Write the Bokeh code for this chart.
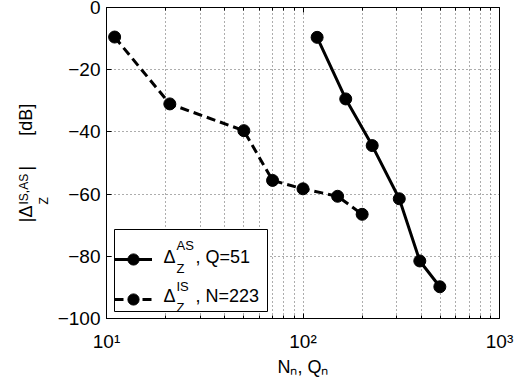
from math import pi
from bokeh.plotting import figure
from bokeh.models import (Range1d, FixedTicker, Legend, LegendItem, Label,
                          LogAxis, BoxAnnotation)
from bokeh.embed import file_html
from bokeh.resources import INLINE

# ---- data ----
is_n = [11, 21, 50, 70, 100, 150, 200]
is_db = [-9.5, -31.0, -39.6, -55.6, -58.3, -60.7, -66.5]
as_q = [118, 165, 225, 309, 393, 497]
as_db = [-9.6, -29.4, -44.4, -61.5, -81.5, -89.8]

x_ticks = [10, 100, 1000]
x_tick_labels = ["10\u00b9", "10\u00b2", "10\u00b3"]
x_minor = [20, 30, 40, 50, 60, 70, 80, 90, 200, 300, 400, 500, 600, 700, 800, 900]
y_ticks = [-100, -80, -60, -40, -20, 0]
y_tick_labels = ["\u2212100", "\u221280", "\u221260", "\u221240", "\u221220", "0"]

FONT = "Liberation Sans"
NB = "\u00a0"

p = figure(width=527, height=387, x_axis_type="log",
           x_range=Range1d(10, 1000), y_range=Range1d(-100, 0),
           output_backend="svg", toolbar_location=None,
           min_border_left=106, min_border_right=27,
           min_border_top=7, min_border_bottom=69)
p.background_fill_color = "white"
p.border_fill_color = "white"
p.outline_line_color = "black"
p.outline_line_width = 1

# axes
p.xaxis.ticker = FixedTicker(ticks=x_ticks, minor_ticks=x_minor)
p.yaxis.ticker = FixedTicker(ticks=y_ticks, minor_ticks=[])
p.xaxis.major_label_overrides = {t: s for t, s in zip(x_ticks, x_tick_labels)}
p.yaxis.major_label_overrides = {t: s for t, s in zip(y_ticks, y_tick_labels)}
for ax in (p.xaxis, p.yaxis):
    ax.major_label_text_font = FONT
    ax.major_label_text_font_size = "19px"
    ax.major_label_text_color = "black"
    ax.axis_line_color = "black"
    ax.major_tick_line_color = "black"
    ax.minor_tick_line_color = "black"
    ax.major_tick_in = 5
    ax.major_tick_out = 0
    ax.minor_tick_in = 3
    ax.minor_tick_out = 0
    ax.axis_label_text_font = FONT
    ax.axis_label_text_font_size = "18px"
    ax.axis_label_text_font_style = "normal"
    ax.axis_label_text_color = "black"
p.xaxis.major_label_standoff = 12
p.yaxis.major_label_standoff = 6
p.xaxis.axis_label = "N\u2099, Q\u2099"
p.xaxis.axis_label_standoff = 2
p.yaxis.axis_label = "|\u0394" + NB * 7 + "|" + NB * 6 + "[dB]"
p.yaxis.axis_label_standoff = 19

# box ticks on top
top_ax = LogAxis(ticker=FixedTicker(ticks=x_ticks, minor_ticks=x_minor),
                 major_label_overrides={t: "" for t in x_ticks},
                 major_label_text_font_size="1px", major_label_standoff=0,
                 major_tick_in=5, major_tick_out=0, minor_tick_in=3, minor_tick_out=0,
                 axis_line_color="black")
p.add_layout(top_ax, "above")

# grid
for g in (p.xgrid, p.ygrid):
    g.grid_line_color = "#333333"
    g.grid_line_dash = "1 3"
    g.grid_line_width = 1
    g.grid_line_alpha = 0.8
p.xgrid.minor_grid_line_color = "#333333"
p.xgrid.minor_grid_line_dash = "1 3"
p.xgrid.minor_grid_line_alpha = 0.8

# data
l_as = p.line(as_q, as_db, line_color="black", line_width=3)
s_as = p.scatter(as_q, as_db, size=12, fill_color="black", line_color="black")
l_is = p.line(is_n, is_db, line_color="black", line_width=3, line_dash="9 5")
s_is = p.scatter(is_n, is_db, size=12, fill_color="black", line_color="black")

# legend box (drawn as an annotation so the texts can sit on top of it)
p.add_layout(BoxAnnotation(left=8, right=161, bottom=7, top=89,
                           left_units="screen", right_units="screen",
                           bottom_units="screen", top_units="screen",
                           fill_color="white", fill_alpha=1.0,
                           line_color="black", line_width=1, line_alpha=1.0))


def lbl(text, x, y, size, angle=0.0, place=None):
    lab = Label(text=text, x=x, y=y, x_units="canvas", y_units="canvas",
                angle=angle, text_font=FONT, text_font_size=size,
                text_color="black", text_align="left",
                text_baseline="alphabetic")
    if place is None:
        p.add_layout(lab)
    else:
        p.add_layout(lab, place)


# legend texts (canvas pixels)
lbl("\u0394", 163, 256, "18px")
lbl("AS", 176, 245, "13px")
lbl("Z", 176, 268, "13px")
lbl(", Q=51", 195, 256, "18px")
lbl("\u0394", 163, 295, "18px")
lbl("IS", 176, 286, "13px")
lbl("Z", 176, 307, "13px")
lbl(", N=223", 195, 295, "18px")

# legend glyph samples (transparent legend, glyphs only)
legend = Legend(items=[LegendItem(label=" ", renderers=[l_as, s_as]),
                       LegendItem(label=" ", renderers=[l_is, s_is])],
                location=(8, 5), orientation="vertical", padding=7, spacing=12,
                glyph_width=38, glyph_height=28, label_height=28, label_width=96,
                label_standoff=5, margin=0, border_line_color=None,
                background_fill_alpha=0, label_text_font_size="8px")
p.add_layout(legend)

# sub/superscript of the y axis label (rotated, drawn from the right panel
# so they are not clipped and do not widen the left border)
lbl("Z", 43, 204, "12px", pi / 2, "right")
lbl("IS,AS", 23, 204, "12px", pi / 2, "right")

open("out.html", "w").write(file_html(p, INLINE))
